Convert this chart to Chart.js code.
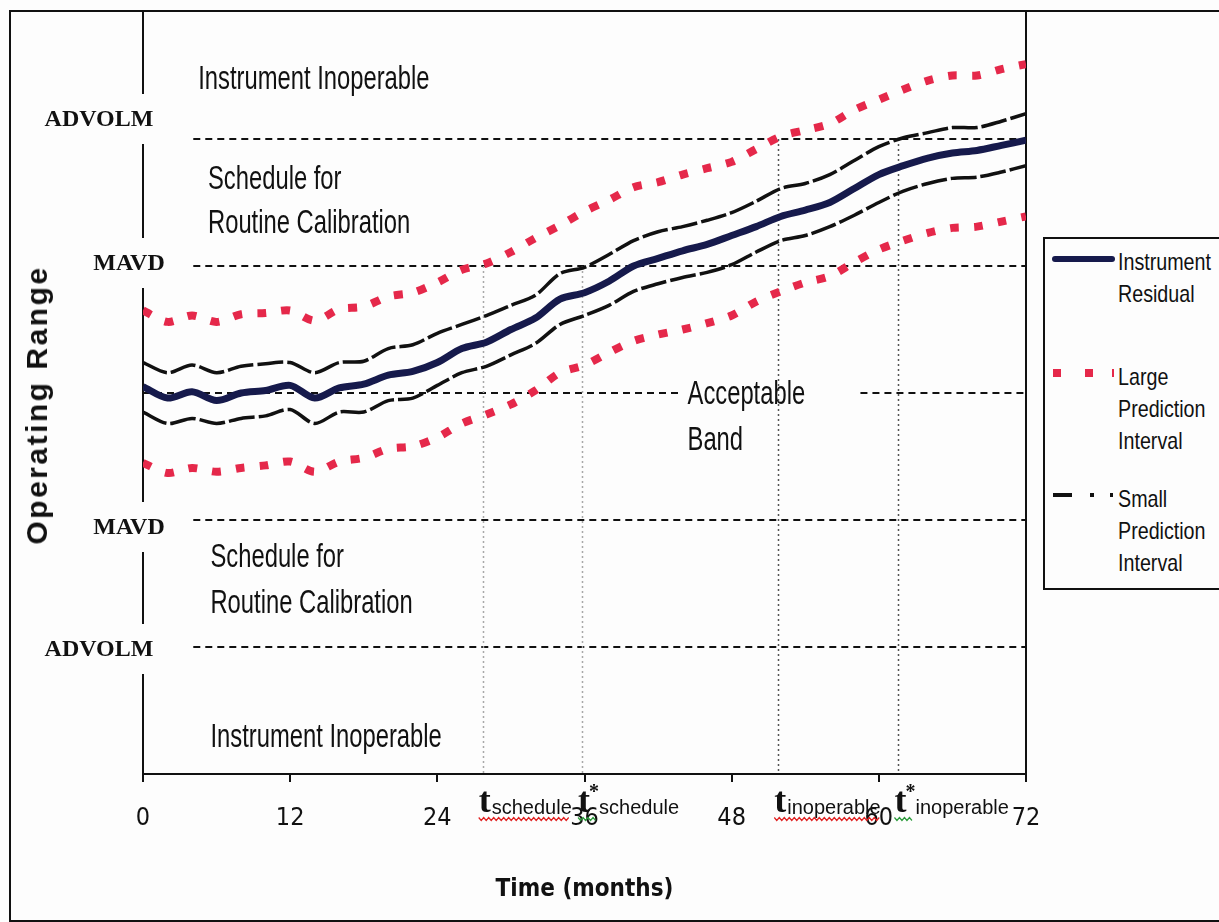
<!DOCTYPE html>
<html>
<head>
<meta charset="utf-8">
<script src="https://cdn.jsdelivr.net/npm/chart.js@4.4.1/dist/chart.umd.min.js"></script>
<style>
  html, body { margin: 0; padding: 0; background: #fdfdfd; }
  #wrap { position: relative; width: 1219px; height: 922px; overflow: hidden; }
  #frame { position: absolute; left: 9px; top: 10px; width: 1300px; height: 908px;
           border-left: 2px solid #111; border-top: 2px solid #111; border-bottom: 2px solid #111; }
  canvas { position: absolute; left: 0; top: 0; }
  #ytitle { position: absolute; left: 37px; top: 405px; transform: translate(-50%, -50%) rotate(-90deg);
            font: bold 30px 'Liberation Sans', Arial, sans-serif; letter-spacing: 2.5px; white-space: nowrap; color: #111; }
  #legend { position: absolute; left: 1043px; top: 237px; width: 200px; height: 349px; border: 2px solid #111; background: #fdfdfd; }
  #legend .t { position: absolute; left: 73px; font: 24px 'Liberation Sans', Arial, sans-serif; line-height: 32px; color: #111;
               transform: scaleX(0.82); transform-origin: left top; white-space: nowrap; }
  #legend .s { position: absolute; }
</style>
</head>
<body>
<div id="wrap">
  <div id="frame"></div>
  <canvas id="chart" width="1219" height="922"></canvas>
  <div id="ytitle">Operating Range</div>
  <div id="legend">
    <div class="s" style="left:7px;top:17px;width:63px;height:6px;background:#161a4c;border-radius:3px"></div>
    <div class="t" style="top:7px">Instrument<br>Residual</div>
    <div class="s" style="left:8px;top:130px;width:8px;height:8px;background:#e5284a"></div>
    <div class="s" style="left:40px;top:130px;width:8px;height:8px;background:#e5284a"></div>
    <div class="s" style="left:67px;top:130px;width:2px;height:8px;background:#e5284a"></div>
    <div class="t" style="top:122px">Large<br>Prediction<br>Interval</div>
    <div class="s" style="left:8px;top:254px;width:19px;height:4px;background:#111"></div>
    <div class="s" style="left:45px;top:254px;width:4px;height:4px;background:#111"></div>
    <div class="s" style="left:65px;top:254px;width:3px;height:4px;background:#111"></div>
    <div class="t" style="top:244px">Small<br>Prediction<br>Interval</div>
  </div>
</div>
<script>
// time in months, values in operating-range units (MAVD = 1, ADVOLM = 2)
const MONTHS = [0, 2, 4, 6, 8, 10, 12, 14, 16, 18, 20, 22, 24, 26, 28, 30, 32, 34, 36, 38, 40, 42, 44, 46, 48, 50, 52, 54, 56, 58, 60, 62, 64, 66, 68, 70, 72];
const RESIDUAL = [0.05, -0.04, 0.01, -0.06, 0.00, 0.02, 0.06, -0.04, 0.04, 0.07, 0.14, 0.17, 0.24, 0.35, 0.40, 0.50, 0.59, 0.74, 0.79, 0.88, 1.00, 1.06, 1.12, 1.17, 1.24, 1.31, 1.39, 1.44, 1.50, 1.61, 1.72, 1.79, 1.85, 1.89, 1.91, 1.95, 1.99];
const SMALL_UPPER = [0.24, 0.16, 0.22, 0.16, 0.21, 0.23, 0.24, 0.16, 0.24, 0.25, 0.35, 0.38, 0.47, 0.54, 0.61, 0.69, 0.77, 0.94, 0.99, 1.09, 1.20, 1.27, 1.31, 1.36, 1.42, 1.51, 1.61, 1.65, 1.72, 1.83, 1.94, 2.01, 2.05, 2.09, 2.09, 2.14, 2.20];
const SMALL_LOWER = [-0.15, -0.24, -0.20, -0.24, -0.20, -0.18, -0.13, -0.24, -0.15, -0.15, -0.06, -0.04, 0.06, 0.16, 0.21, 0.30, 0.39, 0.54, 0.61, 0.69, 0.80, 0.86, 0.91, 0.95, 1.01, 1.11, 1.20, 1.24, 1.31, 1.40, 1.50, 1.59, 1.65, 1.69, 1.70, 1.74, 1.79];
const LARGE_UPPER = [0.65, 0.56, 0.61, 0.56, 0.62, 0.63, 0.65, 0.57, 0.66, 0.68, 0.76, 0.79, 0.87, 0.97, 1.02, 1.11, 1.22, 1.32, 1.43, 1.52, 1.62, 1.66, 1.72, 1.77, 1.82, 1.92, 2.02, 2.07, 2.12, 2.23, 2.31, 2.39, 2.46, 2.50, 2.50, 2.55, 2.59];
const LARGE_LOWER = [-0.55, -0.63, -0.59, -0.62, -0.59, -0.57, -0.54, -0.62, -0.54, -0.51, -0.44, -0.42, -0.35, -0.24, -0.17, -0.09, 0.02, 0.16, 0.22, 0.32, 0.41, 0.46, 0.50, 0.55, 0.61, 0.72, 0.80, 0.87, 0.92, 1.03, 1.13, 1.20, 1.26, 1.30, 1.31, 1.35, 1.39];
const X_TICKS = [0, 12, 24, 36, 48, 60, 72];
const LEVELS = [2, 1, 0, -1, -2];
const LEVEL_NAMES = ["ADVOLM", "MAVD", "", "MAVD", "ADVOLM"];
const T_MARKS = [27.7, 35.8, 51.8, 61.6];
const T_LEVELS = [1, 1, 2, 2];
const T_NAMES = ["schedule", "schedule", "inoperable", "inoperable"];
const T_STAR = [false, true, false, true];

const NAVY = "#161a4c";
const RED = "#e5284a";
const INK = "#111";
const SANS = "'Liberation Sans', Arial, sans-serif";
const COND = "'DejaVu Sans Condensed', 'Liberation Sans Narrow', sans-serif";

const pts = (vals) => MONTHS.map((m, i) => ({ x: m, y: vals[i] }));

function wavy(ctx, x0, x1, y, color) {
  ctx.save();
  ctx.strokeStyle = color; ctx.lineWidth = 1.2; ctx.setLineDash([]);
  ctx.beginPath();
  for (let x = x0, i = 0; x <= x1; x += 2.5, i++) {
    const yy = y + (i % 2 ? 1.5 : -1.5);
    i ? ctx.lineTo(x, yy) : ctx.moveTo(x, yy);
  }
  ctx.stroke();
  ctx.restore();
}

// dashed threshold lines, dotted time markers, right edge of the plot
const guides = {
  id: "guides",
  beforeDatasetsDraw(chart) {
    const { ctx, chartArea: a, scales: { x, y } } = chart;
    ctx.save();
    ctx.lineWidth = 2; ctx.strokeStyle = INK; ctx.setLineDash([7, 5]);
    LEVELS.forEach((v) => {
      const py = Math.round(y.getPixelForValue(v));
      const segs = v === 0 ? [[0, 44], [58.5, 72]] : [[4.1, 72]];
      segs.forEach(([m0, m1]) => {
        ctx.beginPath();
        ctx.moveTo(x.getPixelForValue(m0), py);
        ctx.lineTo(x.getPixelForValue(m1), py);
        ctx.stroke();
      });
    });
    ctx.lineWidth = 1.5; ctx.setLineDash([2, 3]);
    T_MARKS.forEach((m, i) => {
      const px = Math.round(x.getPixelForValue(m)) + 0.5;
      ctx.strokeStyle = T_LEVELS[i] === 1 ? "#a8a8a8" : "#555";
      ctx.beginPath();
      ctx.moveTo(px, y.getPixelForValue(T_LEVELS[i]));
      ctx.lineTo(px, a.bottom);
      ctx.stroke();
    });
    ctx.setLineDash([]); ctx.strokeStyle = INK; ctx.lineWidth = 2;
    ctx.beginPath(); ctx.moveTo(a.right, a.top); ctx.lineTo(a.right, a.bottom); ctx.stroke();
    ctx.restore();
  },
};

// level names, zone texts and the t markers under the axis
const notes = {
  id: "notes",
  afterDraw(chart) {
    const { ctx, chartArea: a, scales: { x, y } } = chart;
    ctx.save();
    ctx.font = "bold 24px 'Liberation Serif', 'Times New Roman', serif";
    ctx.textAlign = "center"; ctx.textBaseline = "middle";
    const nameX = { ADVOLM: 99, MAVD: 129 };
    const nameDy = [-20, -3, 0, 7, 2];
    LEVELS.forEach((v, i) => {
      const name = LEVEL_NAMES[i];
      if (!name) return;
      const cy = y.getPixelForValue(v) + nameDy[i];
      const w = ctx.measureText(name).width + 16;
      ctx.fillStyle = "#fdfdfd";
      ctx.fillRect(nameX[name] - w / 2, cy - 25, w, 50);
      ctx.fillStyle = INK;
      ctx.fillText(name, nameX[name], cy + 1);
    });

    ctx.textAlign = "left"; ctx.textBaseline = "alphabetic"; ctx.fillStyle = INK;
    ctx.font = `29px ${SANS}`;
    const zones = [
      ["Instrument Inoperable", 4.5, 2.39], ["Schedule for", 5.3, 1.61], ["Routine Calibration", 5.3, 1.26],
      ["Acceptable", 44.4, -0.09], ["Band", 44.4, -0.45],
      ["Schedule for", 5.5, -1.37], ["Routine Calibration", 5.5, -1.73], ["Instrument Inoperable", 5.5, -2.79],
    ];
    zones.forEach(([t, m, v]) => {
      ctx.save();
      ctx.translate(x.getPixelForValue(m), y.getPixelForValue(v));
      ctx.scale(0.82, 1.15);
      ctx.fillText(t, 0, 0);
      ctx.restore();
    });

    const base = a.bottom + 38;
    T_MARKS.forEach((m, i) => {
      const x0 = x.getPixelForValue(m) - 4;
      ctx.font = "bold 36px 'Liberation Serif', 'Times New Roman', serif";
      ctx.fillText("t", x0, base);
      let cx = x0 + ctx.measureText("t").width;
      if (T_STAR[i]) {
        ctx.font = "bold 20px 'Liberation Serif', serif";
        ctx.fillText("*", cx - 1, base - 14);
        cx += 8;
      }
      ctx.font = `20px ${SANS}`;
      ctx.fillText(T_NAMES[i], cx + 1, base + 2);
      const w = ctx.measureText(T_NAMES[i]).width;
      if (T_STAR[i]) wavy(ctx, x0, cx, base + 7, "#2a9a3a");
      else wavy(ctx, x0, cx + w, base + 7, "#e02020");
    });
    ctx.restore();
  },
};

new Chart(document.getElementById("chart"), {
  type: "line",
  data: {
    datasets: [
      { label: "Instrument Residual", data: pts(RESIDUAL), borderColor: NAVY, borderWidth: 7, order: 0 },
      { label: "Small Prediction Interval", data: pts(SMALL_UPPER), borderColor: INK, borderWidth: 3.5, borderDash: [26, 4], order: 1 },
      { label: "Small Prediction Interval (lower)", data: pts(SMALL_LOWER), borderColor: INK, borderWidth: 3.5, borderDash: [26, 4], order: 1 },
      { label: "Large Prediction Interval", data: pts(LARGE_UPPER), borderColor: RED, borderWidth: 8, borderDash: [9, 15], order: 2 },
      { label: "Large Prediction Interval (lower)", data: pts(LARGE_LOWER), borderColor: RED, borderWidth: 8, borderDash: [9, 15], order: 2 },
    ],
  },
  options: {
    responsive: false, animation: false,
    layout: { padding: { top: 12, right: 193, left: 0, bottom: 0 } },
    elements: { point: { radius: 0 }, line: { tension: 0.3, fill: false, borderCapStyle: "butt" } },
    plugins: { legend: { display: false }, tooltip: { enabled: false } },
    scales: {
      x: {
        type: "linear", min: 0, max: 72,
        afterBuildTicks: (s) => { s.ticks = X_TICKS.map((v) => ({ value: v })); },
        afterFit: (s) => { s.height = 148; },
        grid: { drawOnChartArea: false, tickLength: 8, color: INK, lineWidth: 2 },
        border: { color: INK, width: 2 },
        ticks: { color: INK, font: { family: COND, size: 25 }, padding: 21, maxRotation: 0 },
        title: { display: true, text: "Time (months)", color: INK, font: { family: COND, size: 24, weight: "bold" }, padding: { top: 0, bottom: 18 } },
      },
      y: {
        min: -3, max: 3,
        afterFit: (s) => { s.width = 143; },
        ticks: { display: false },
        grid: { display: false },
        border: { color: INK, width: 2 },
      },
    },
  },
  plugins: [guides, notes],
});
</script>
</body>
</html>
